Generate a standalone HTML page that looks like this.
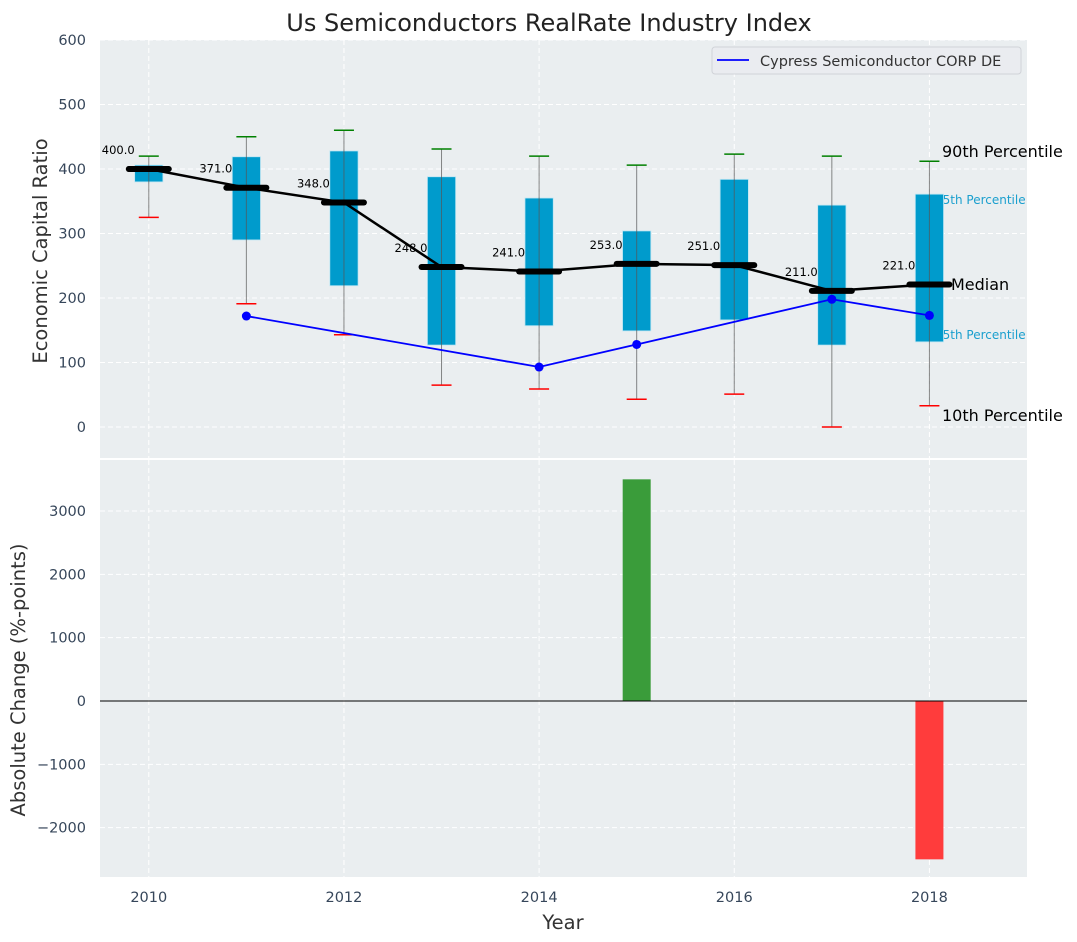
<!DOCTYPE html>
<html><head><meta charset="utf-8"><style>
body{margin:0;background:#fff;}
svg{display:block;font-family:"DejaVu Sans","Liberation Sans",sans-serif;}
</style></head><body>
<svg id="chart" width="1077" height="942" xmlns="http://www.w3.org/2000/svg">
<text x="549" y="31" font-size="24" text-anchor="middle" fill="#222">Us Semiconductors RealRate Industry Index</text>
<g id="topPanel"></g>
<g id="botPanel"></g>
</svg>
<script>
const years=[2010,2011,2012,2013,2014,2015,2016,2017,2018];
const p10=[325,191,143,65,59,43,51,0,33];
const p25=[380,290,219,127,157,149,166,127,132];
const med=[400,371,348,248,241,253,251,211,221];
const p75=[406,419,428,388,355,304,384,344,361];
const p90=[420,450,460,431,420,406,423,420,412];
const compYears=[2011,2014,2015,2017,2018];
const compVals=[172,93,128,198,173];
const chgYears=[2015,2018];
const chgVals=[3500,-2500];
const yTicksTop=[0,100,200,300,400,500,600];
const yTicksBot=[-2000,-1000,0,1000,2000,3000];
const xTicks=[2010,2012,2014,2016,2018];

const NS="http://www.w3.org/2000/svg";
function el(parent,tag,attrs,text){const e=document.createElementNS(NS,tag);for(const k in attrs)e.setAttribute(k,attrs[k]);if(text!==undefined)e.textContent=text;parent.appendChild(e);return e;}
const L=100,R=1027;
const X=v=>L+(v-2009.5)*(R-L)/9.5;
const YT=v=>427-v*0.645;
const YB=v=>701-v*(190/3000);
const topG=document.getElementById('topPanel'),botG=document.getElementById('botPanel');

function panel(g,y0,y1,yt,Y,fmt){
  let r=el(g,'rect',{x:L,y:y0,width:R-L,height:y1-y0,fill:'#eaeef0'});
  
  
  yt.forEach(t=>{const y=Y(t);
    let l=el(g,'line',{x1:L,x2:R,y1:y,y2:y,stroke:'#fff','stroke-dasharray':'5,3','stroke-width':1});
    
    
    let tx=el(g,'text',{x:L-14,y:y+5,'font-size':14.5,'text-anchor':'end',fill:'#36465a'},fmt(t));
    
    });
  xTicks.forEach(t=>{let l=el(g,'line',{x1:X(t),x2:X(t),y1:y0,y2:y1,stroke:'#fff','stroke-dasharray':'5,3'});
    
    });
}
panel(topG,40,458,yTicksTop,YT,t=>String(t));
panel(botG,460,877,yTicksBot,YB,t=>t<0?'\u2212'+(-t):String(t));

const ann=[[942,157,'90th Percentile','#000',16],[935,204,'75th Percentile','#1a9fce',12],[951,290,'Median','#000',16],[935,339,'25th Percentile','#1a9fce',12],[942,421,'10th Percentile','#000',16]];
ann.forEach(a=>{let t=el(topG,'text',{x:a[0],y:a[1],'font-size':a[4],fill:a[3]},a[2]);
  
  });

const bw=0.3*(R-L)/9.5;
years.forEach((yr,i)=>{const x=X(yr);
  let b=el(topG,'rect',{x:x-bw/2+0.5,y:YT(p75[i]),width:bw-1,height:YT(p25[i])-YT(p75[i]),fill:'#009bcc',stroke:'#bfe6f3','stroke-width':0.8});
  
  
  let w=el(topG,'line',{x1:x,x2:x,y1:YT(p90[i]),y2:YT(p10[i]),stroke:'#555','stroke-opacity':0.7,'stroke-width':1});
  
  
  let c1=el(topG,'line',{x1:x-10,x2:x+10,y1:YT(p90[i]),y2:YT(p90[i]),stroke:'green','stroke-width':1.5});
  
  
  let c2=el(topG,'line',{x1:x-10,x2:x+10,y1:YT(p10[i]),y2:YT(p10[i]),stroke:'red','stroke-width':1.5});
  
  
});
let mp=el(topG,'polyline',{points:years.map((y,i)=>X(y)+','+YT(med[i])).join(' '),fill:'none',stroke:'#000','stroke-width':2.5});


years.forEach((yr,i)=>{const x=X(yr);
  let m=el(topG,'line',{x1:x-20,x2:x+20,y1:YT(med[i]),y2:YT(med[i]),stroke:'#000','stroke-width':6,'stroke-linecap':'round'});
  
  
  let t=el(topG,'text',{x:x-47,y:YT(med[i])-15,'font-size':11.5,fill:'#000'},med[i].toFixed(1));
  
  
});
let cp=el(topG,'polyline',{points:compYears.map((y,i)=>X(y)+','+YT(compVals[i])).join(' '),fill:'none',stroke:'#0000ff','stroke-width':1.8});


compYears.forEach((y,i)=>{let c=el(topG,'circle',{cx:X(y),cy:YT(compVals[i]),r:4.5,fill:'#0000ff'});
  
  });
const lg=el(topG,'g',{});


el(lg,'rect',{x:712,y:47,width:309,height:27,rx:3,fill:'#eaecf0',stroke:'#d0d3d8'});
el(lg,'line',{x1:717,x2:749,y1:60,y2:60,stroke:'#0000ff','stroke-width':1.8});
let lt=el(lg,'text',{x:760,y:66,'font-size':14.5,fill:'#333'},'Cypress Semiconductor CORP DE');


let yl=el(topG,'text',{x:47,y:251,'font-size':19.5,fill:'#333','text-anchor':'middle',transform:'rotate(-90 47 251)'},'Economic Capital Ratio');



chgYears.forEach((y,i)=>{const v=chgVals[i];
  let r=el(botG,'rect',{x:X(y)-14,y:Math.min(YB(v),YB(0)),width:28,height:Math.abs(YB(v)-YB(0)),fill:v>=0?'#3a9c3a':'#ff3c3c'});
  
  });
let zl=el(botG,'line',{x1:L,x2:R,y1:YB(0),y2:YB(0),stroke:'#000','stroke-width':1});


xTicks.forEach(t=>{let tx=el(botG,'text',{x:X(t),y:902,'font-size':14.5,'text-anchor':'middle',fill:'#36465a'},String(t));
  
  });
let xl=el(botG,'text',{x:563,y:929,'font-size':19.5,'text-anchor':'middle',fill:'#333'},'Year');


let yl2=el(botG,'text',{x:25,y:680,'font-size':19.5,fill:'#333','text-anchor':'middle',transform:'rotate(-90 25 680)'},'Absolute Change (%-points)');


</script>
</body></html>
